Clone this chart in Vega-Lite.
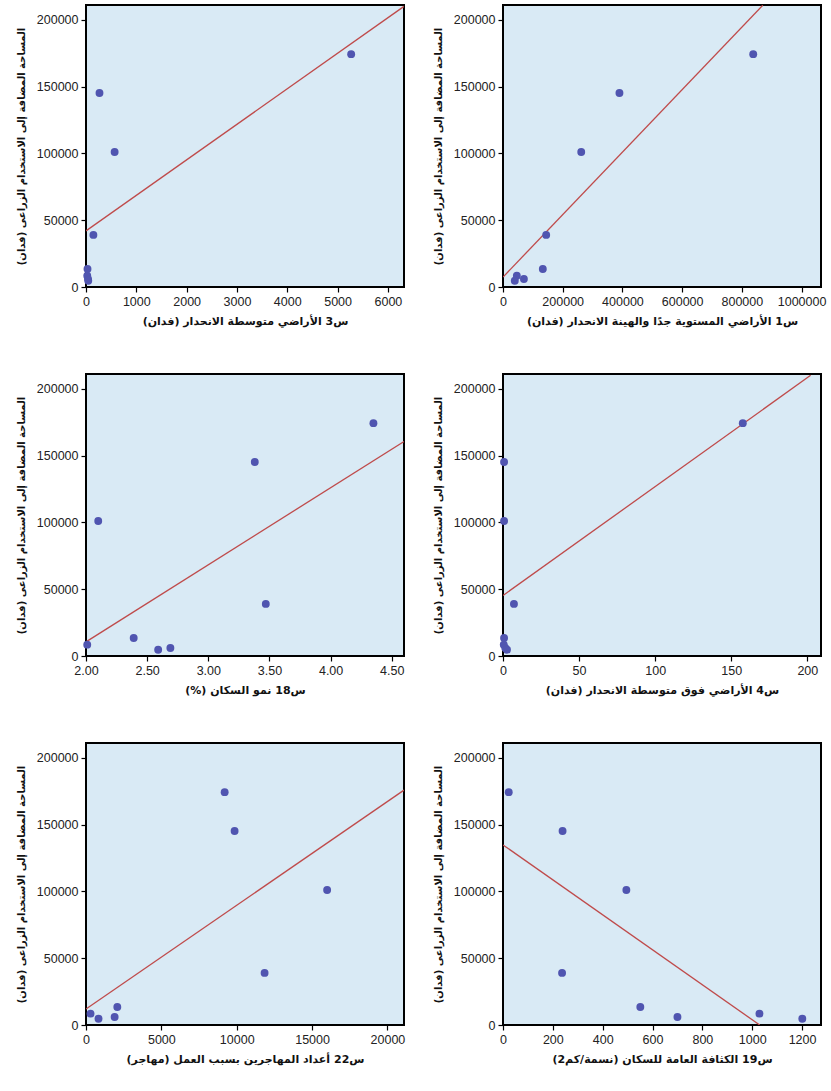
{
  "$schema": "https://vega.github.io/schema/vega-lite/v6.json",
  "background": "white",
  "padding": {"left": 15, "top": 4, "right": 5, "bottom": 5},
  "columns": 2,
  "spacing": {"row": 45, "column": 26},
  "datasets": {
    "pts": [
      {"p": 1, "x": 5270, "y": 174200}, {"p": 1, "x": 268, "y": 145200}, {"p": 1, "x": 569, "y": 101000}, {"p": 1, "x": 147, "y": 39000},
      {"p": 1, "x": 30, "y": 13500}, {"p": 1, "x": 25, "y": 8500}, {"p": 1, "x": 40, "y": 6000}, {"p": 1, "x": 45, "y": 4700},
      {"p": 2, "x": 838000, "y": 174200}, {"p": 2, "x": 390000, "y": 145200}, {"p": 2, "x": 262000, "y": 101000}, {"p": 2, "x": 144600, "y": 39000},
      {"p": 2, "x": 133300, "y": 13500}, {"p": 2, "x": 46300, "y": 8500}, {"p": 2, "x": 70000, "y": 6000}, {"p": 2, "x": 39500, "y": 4700},
      {"p": 3, "x": 4.35, "y": 174200}, {"p": 3, "x": 3.38, "y": 145200}, {"p": 3, "x": 2.10, "y": 101000}, {"p": 3, "x": 3.47, "y": 39000},
      {"p": 3, "x": 2.39, "y": 13500}, {"p": 3, "x": 2.01, "y": 8500}, {"p": 3, "x": 2.69, "y": 6000}, {"p": 3, "x": 2.59, "y": 4700},
      {"p": 4, "x": 157.6, "y": 174200}, {"p": 4, "x": 0.7, "y": 145200}, {"p": 4, "x": 0.7, "y": 101000}, {"p": 4, "x": 7.2, "y": 39000},
      {"p": 4, "x": 0.7, "y": 13500}, {"p": 4, "x": 0.5, "y": 8500}, {"p": 4, "x": 1.5, "y": 6000}, {"p": 4, "x": 2.6, "y": 4700},
      {"p": 5, "x": 9200, "y": 174200}, {"p": 5, "x": 9860, "y": 145200}, {"p": 5, "x": 16000, "y": 101000}, {"p": 5, "x": 11850, "y": 39000},
      {"p": 5, "x": 2077, "y": 13500}, {"p": 5, "x": 300, "y": 8500}, {"p": 5, "x": 1900, "y": 6000}, {"p": 5, "x": 830, "y": 4700},
      {"p": 6, "x": 23, "y": 174200}, {"p": 6, "x": 239, "y": 145200}, {"p": 6, "x": 495, "y": 101000}, {"p": 6, "x": 237, "y": 39000},
      {"p": 6, "x": 551, "y": 13500}, {"p": 6, "x": 1029, "y": 8500}, {"p": 6, "x": 700, "y": 6000}, {"p": 6, "x": 1201, "y": 4700}
    ],
    "fit": [
      {"p": 1, "x": 0, "y": 42000}, {"p": 1, "x": 6320, "y": 210000},
      {"p": 2, "x": 0, "y": 7400}, {"p": 2, "x": 870000, "y": 210800},
      {"p": 3, "x": 2.0, "y": 10600}, {"p": 3, "x": 4.6, "y": 160500},
      {"p": 4, "x": 0, "y": 45300}, {"p": 4, "x": 202.2, "y": 210000},
      {"p": 5, "x": 0, "y": 12000}, {"p": 5, "x": 21100, "y": 175750},
      {"p": 6, "x": 0, "y": 134750}, {"p": 6, "x": 1030, "y": 0}
    ]
  },
  "concat": [
    {
      "width": 318, "height": 282,
      "layer": [
        {"data": {"name": "fit"}, "transform": [{"filter": "datum.p == 1"}],
         "mark": {"type": "line", "color": "#bf4b4b", "strokeWidth": 1.3, "clip": true},
         "encoding": {
           "x": {"field": "x", "type": "quantitative", "scale": {"domain": [0, 6320], "nice": false, "zero": false},
                 "axis": {"values": [0, 1000, 2000, 3000, 4000, 5000, 6000], "format": "d", "title": "س3 الأراضي متوسطة الانحدار (فدان)"}},
           "y": {"field": "y", "type": "quantitative", "scale": {"domain": [0, 211000], "nice": false},
                 "axis": {"values": [0, 50000, 100000, 150000, 200000], "format": "d", "title": "المساحة المضافة إلى الاستخدام الزراعى (فدان)"}}
         }},
        {"data": {"name": "pts"}, "transform": [{"filter": "datum.p == 1"}],
         "mark": {"type": "circle", "size": 62, "color": "#5055b0", "opacity": 1},
         "encoding": {"x": {"field": "x", "type": "quantitative"}, "y": {"field": "y", "type": "quantitative"}}}
      ]
    },
    {
      "width": 318, "height": 282,
      "layer": [
        {"data": {"name": "fit"}, "transform": [{"filter": "datum.p == 2"}],
         "mark": {"type": "line", "color": "#bf4b4b", "strokeWidth": 1.3, "clip": true},
         "encoding": {
           "x": {"field": "x", "type": "quantitative", "scale": {"domain": [0, 1065000], "nice": false, "zero": false},
                 "axis": {"values": [0, 200000, 400000, 600000, 800000, 1000000], "format": "d", "title": "س1 الأراضي المستوية جدًا والهينة الانحدار (فدان)"}},
           "y": {"field": "y", "type": "quantitative", "scale": {"domain": [0, 211000], "nice": false},
                 "axis": {"values": [0, 50000, 100000, 150000, 200000], "format": "d", "title": "المساحة المضافة إلى الاستخدام الزراعى (فدان)"}}
         }},
        {"data": {"name": "pts"}, "transform": [{"filter": "datum.p == 2"}],
         "mark": {"type": "circle", "size": 62, "color": "#5055b0", "opacity": 1},
         "encoding": {"x": {"field": "x", "type": "quantitative"}, "y": {"field": "y", "type": "quantitative"}}}
      ]
    },
    {
      "width": 318, "height": 282,
      "layer": [
        {"data": {"name": "fit"}, "transform": [{"filter": "datum.p == 3"}],
         "mark": {"type": "line", "color": "#bf4b4b", "strokeWidth": 1.3, "clip": true},
         "encoding": {
           "x": {"field": "x", "type": "quantitative", "scale": {"domain": [2, 4.6], "nice": false, "zero": false},
                 "axis": {"values": [2, 2.5, 3, 3.5, 4, 4.5], "format": ".2f", "title": "\u200fس18 نمو السكان (%)\u200f"}},
           "y": {"field": "y", "type": "quantitative", "scale": {"domain": [0, 211000], "nice": false},
                 "axis": {"values": [0, 50000, 100000, 150000, 200000], "format": "d", "title": "المساحة المضافة إلى الاستخدام الزراعى (فدان)"}}
         }},
        {"data": {"name": "pts"}, "transform": [{"filter": "datum.p == 3"}],
         "mark": {"type": "circle", "size": 62, "color": "#5055b0", "opacity": 1},
         "encoding": {"x": {"field": "x", "type": "quantitative"}, "y": {"field": "y", "type": "quantitative"}}}
      ]
    },
    {
      "width": 318, "height": 282,
      "layer": [
        {"data": {"name": "fit"}, "transform": [{"filter": "datum.p == 4"}],
         "mark": {"type": "line", "color": "#bf4b4b", "strokeWidth": 1.3, "clip": true},
         "encoding": {
           "x": {"field": "x", "type": "quantitative", "scale": {"domain": [0, 209], "nice": false, "zero": false},
                 "axis": {"values": [0, 50, 100, 150, 200], "format": "d", "title": "س4 الأراضي فوق متوسطة الانحدار (فدان)"}},
           "y": {"field": "y", "type": "quantitative", "scale": {"domain": [0, 211000], "nice": false},
                 "axis": {"values": [0, 50000, 100000, 150000, 200000], "format": "d", "title": "المساحة المضافة إلى الاستخدام الزراعى (فدان)"}}
         }},
        {"data": {"name": "pts"}, "transform": [{"filter": "datum.p == 4"}],
         "mark": {"type": "circle", "size": 62, "color": "#5055b0", "opacity": 1},
         "encoding": {"x": {"field": "x", "type": "quantitative"}, "y": {"field": "y", "type": "quantitative"}}}
      ]
    },
    {
      "width": 318, "height": 282,
      "layer": [
        {"data": {"name": "fit"}, "transform": [{"filter": "datum.p == 5"}],
         "mark": {"type": "line", "color": "#bf4b4b", "strokeWidth": 1.3, "clip": true},
         "encoding": {
           "x": {"field": "x", "type": "quantitative", "scale": {"domain": [0, 21100], "nice": false, "zero": false},
                 "axis": {"values": [0, 5000, 10000, 15000, 20000], "format": "d", "title": "س22 أعداد المهاجرين بسبب العمل (مهاجر)"}},
           "y": {"field": "y", "type": "quantitative", "scale": {"domain": [0, 211000], "nice": false},
                 "axis": {"values": [0, 50000, 100000, 150000, 200000], "format": "d", "title": "المساحة المضافة إلى الاستخدام الزراعى (فدان)"}}
         }},
        {"data": {"name": "pts"}, "transform": [{"filter": "datum.p == 5"}],
         "mark": {"type": "circle", "size": 62, "color": "#5055b0", "opacity": 1},
         "encoding": {"x": {"field": "x", "type": "quantitative"}, "y": {"field": "y", "type": "quantitative"}}}
      ]
    },
    {
      "width": 318, "height": 282,
      "layer": [
        {"data": {"name": "fit"}, "transform": [{"filter": "datum.p == 6"}],
         "mark": {"type": "line", "color": "#bf4b4b", "strokeWidth": 1.3, "clip": true},
         "encoding": {
           "x": {"field": "x", "type": "quantitative", "scale": {"domain": [0, 1276], "nice": false, "zero": false},
                 "axis": {"values": [0, 200, 400, 600, 800, 1000, 1200], "format": "d", "title": "س19 الكثافة العامة للسكان (نسمة/كم2)"}},
           "y": {"field": "y", "type": "quantitative", "scale": {"domain": [0, 211000], "nice": false},
                 "axis": {"values": [0, 50000, 100000, 150000, 200000], "format": "d", "title": "المساحة المضافة إلى الاستخدام الزراعى (فدان)"}}
         }},
        {"data": {"name": "pts"}, "transform": [{"filter": "datum.p == 6"}],
         "mark": {"type": "circle", "size": 62, "color": "#5055b0", "opacity": 1},
         "encoding": {"x": {"field": "x", "type": "quantitative"}, "y": {"field": "y", "type": "quantitative"}}}
      ]
    }
  ],
  "config": {
    "view": {"fill": "#d9eaf5", "stroke": "#000000", "strokeWidth": 2},
    "axis": {
      "grid": false,
      "domain": false,
      "ticks": true,
      "tickColor": "#000000",
      "tickWidth": 1.2,
      "tickSize": 5,
      "labelFont": "Liberation Sans",
      "labelFontSize": 12.5,
      "labelColor": "#222222",
      "labelPadding": 3,
      "labelOverlap": false,
      "labelFlush": false,
      "titleFont": "DejaVu Sans",
      "titleFontSize": 11,
      "titleFontWeight": "bold",
      "titleColor": "#111111"
    },
    "axisX": {"titlePadding": 8},
    "axisY": {"titlePadding": 10, "titleFontSize": 10}
  }
}
